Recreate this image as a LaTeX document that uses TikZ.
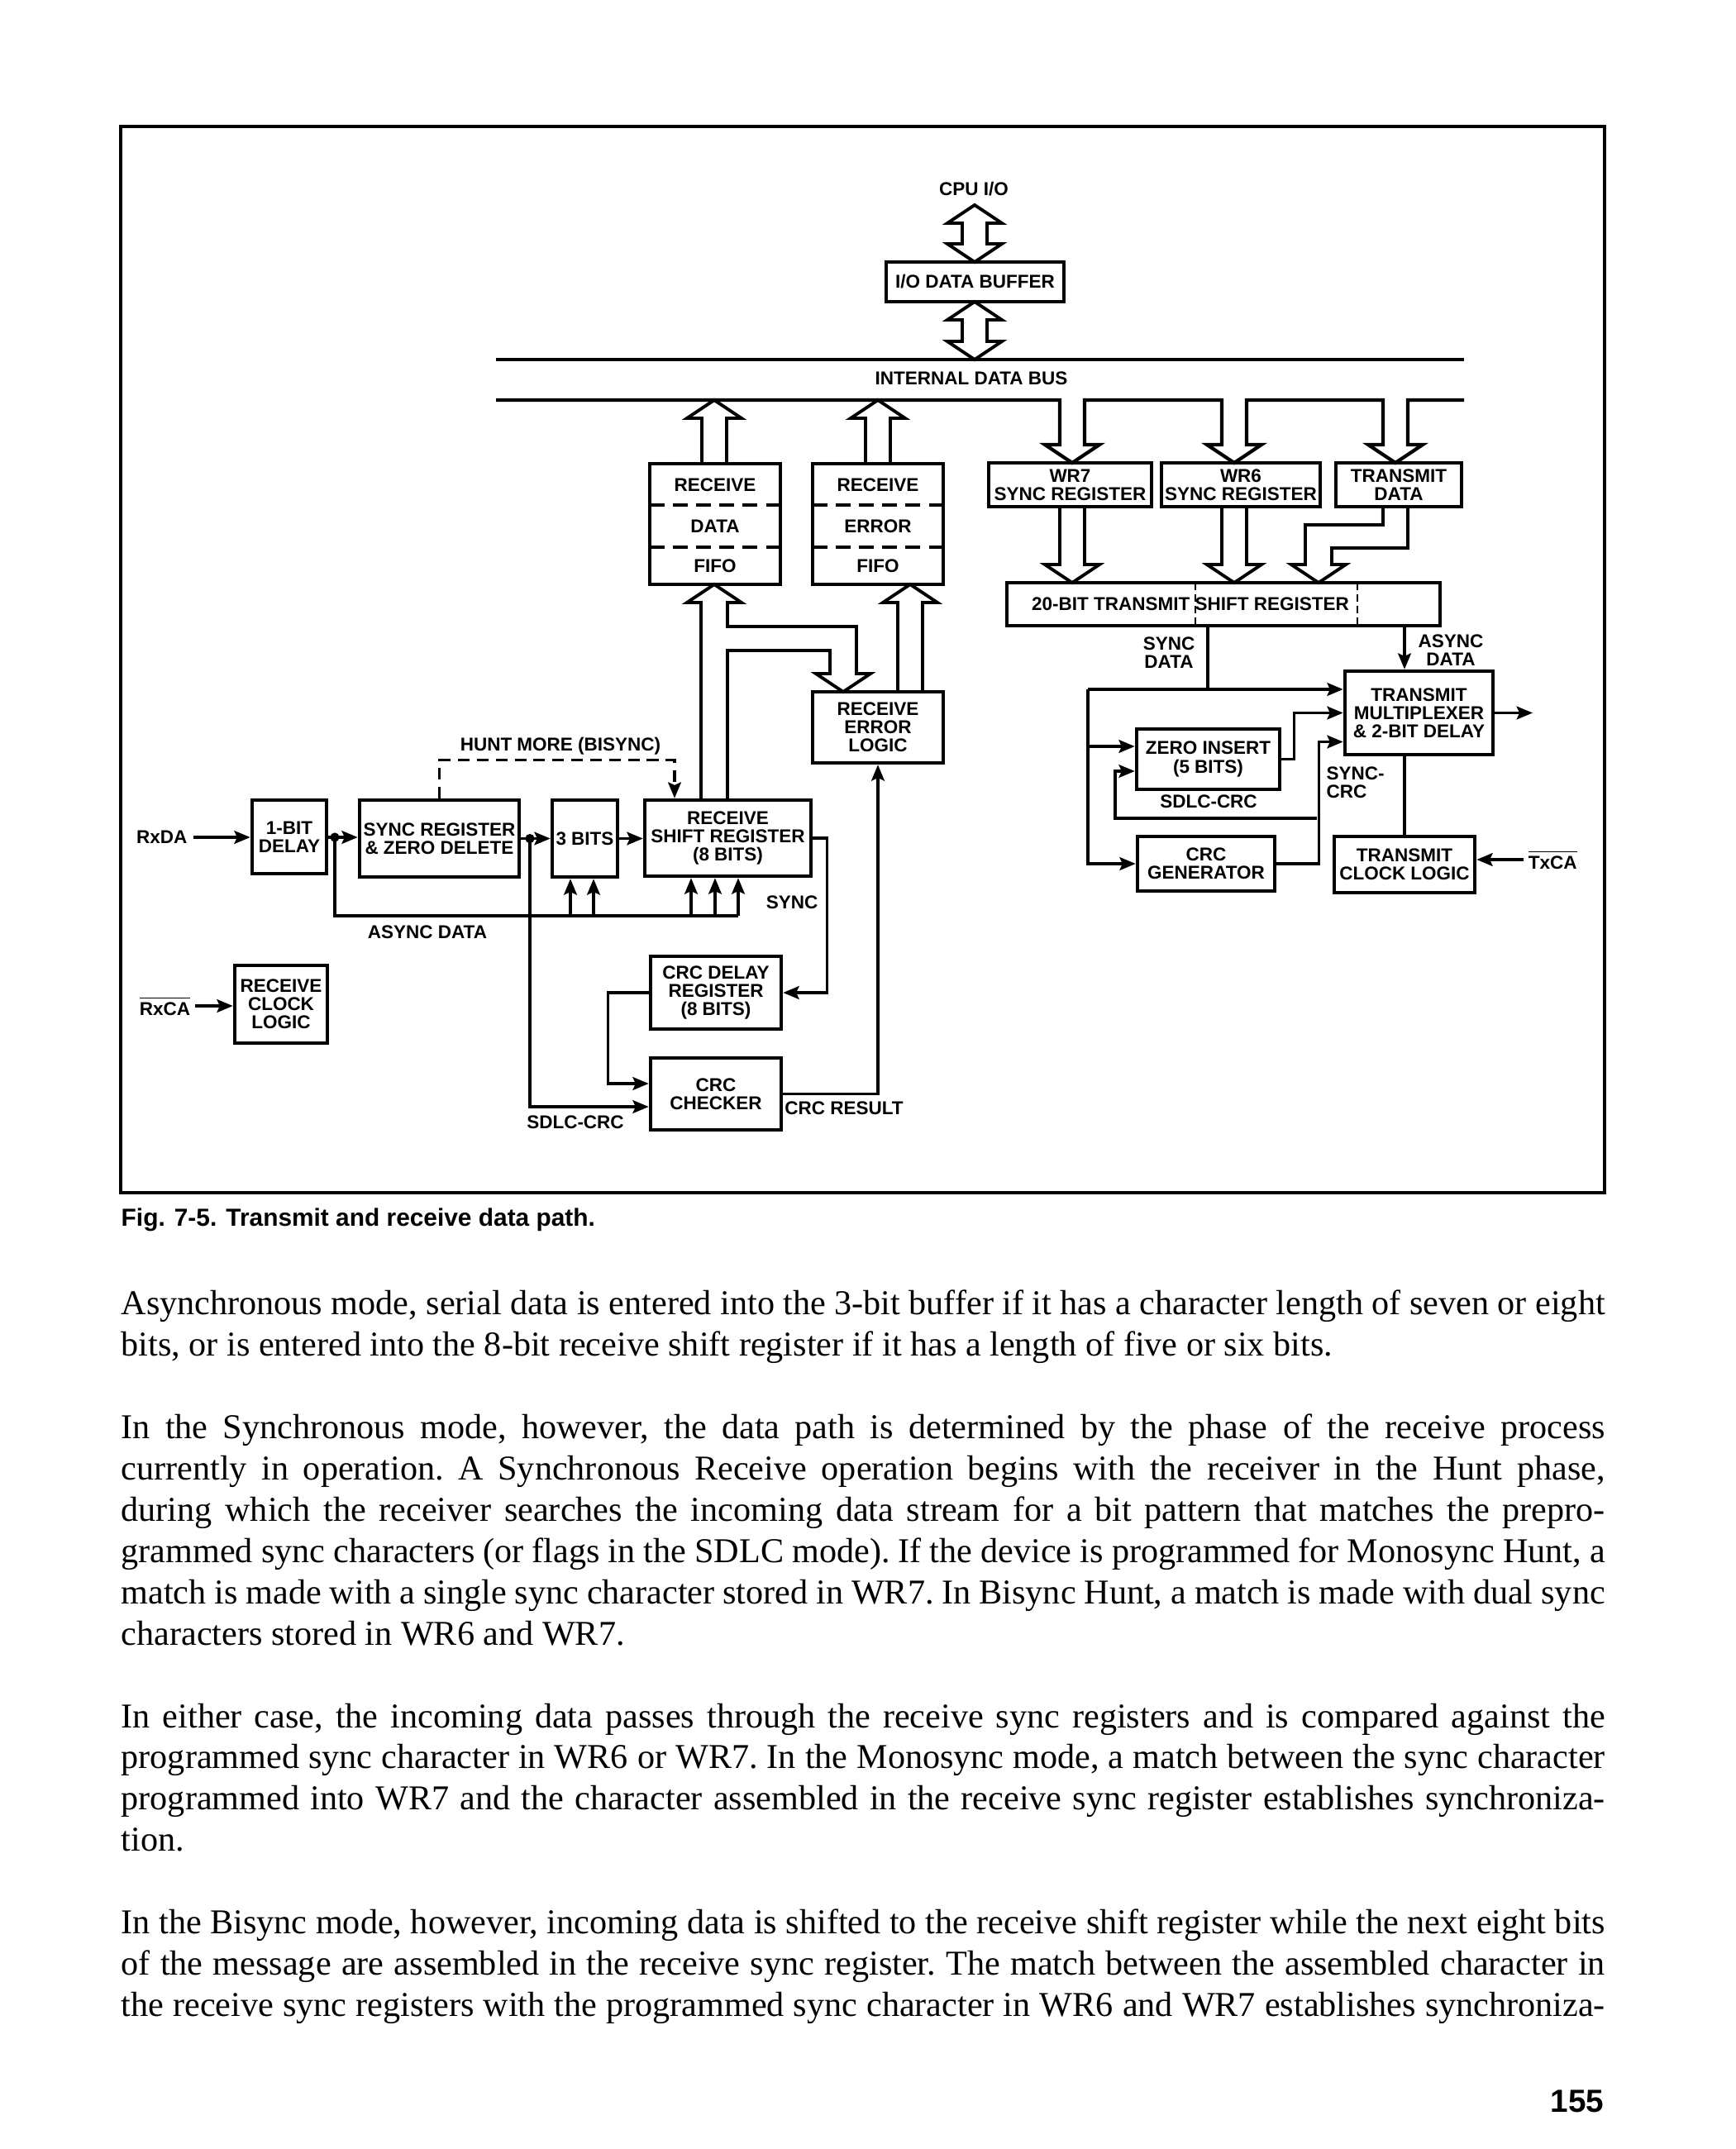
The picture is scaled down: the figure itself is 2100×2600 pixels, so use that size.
\documentclass[tikz,border=0pt]{standalone}
\usepackage{fontspec}
\setmainfont{Liberation Serif}
\newfontfamily\sansfam{Liberation Sans}
\usepackage{tikz}
\usetikzlibrary{arrows.meta, calc}

\newcommand{\diatext}{\sansfam\bfseries\fontsize{6.4}{6.3}\selectfont}
\newcommand{\captext}{\sansfam\bfseries\fontsize{8.5}{10}\selectfont}
\newcommand{\pagetext}{\sansfam\bfseries\fontsize{11}{13}\selectfont}
\newcommand{\ovl}[1]{$\overline{\hbox{#1}}$}
% hollow bus arrows: x, open end, tip
\newcommand{\fatup}[3]{\draw[fat] ({#1-15},#2) -- ({#1-15},{#3+22}) -- ({#1-33},{#3+22}) -- (#1,#3) -- ({#1+33},{#3+22}) -- ({#1+15},{#3+22}) -- ({#1+15},#2);}
\newcommand{\fatdown}[3]{\draw[fat] ({#1-15},#2) -- ({#1-15},{#3-22}) -- ({#1-33},{#3-22}) -- (#1,#3) -- ({#1+33},{#3-22}) -- ({#1+15},{#3-22}) -- ({#1+15},#2);}
\newcommand{\fatboth}[3]{\draw[fat] (#1,#2) -- ({#1+33},{#2+22}) -- ({#1+15},{#2+22}) -- ({#1+15},{#3-22}) -- ({#1+33},{#3-22}) -- (#1,#3) -- ({#1-33},{#3-22}) -- ({#1-15},{#3-22}) -- ({#1-15},{#2+22}) -- ({#1-33},{#2+22}) -- cycle;}

\begin{document}
\begin{tikzpicture}[x=0.1mm, y=-0.1mm,
    blk/.style={draw, line width=1.3pt, inner sep=0pt, align=center, font=\diatext},
    lbl/.style={inner sep=0pt, align=center, font=\diatext},
    wire/.style={line width=0.9pt},
    sig/.style={wire, -{Stealth[length=5.5pt, width=4.5pt, inset=1pt]}},
    fat/.style={line width=1.1pt, line join=miter},
    bus/.style={line width=1.2pt, line join=miter},
    divider/.style={line width=1.3pt, dash pattern=on 5pt off 3pt},
    hunt/.style={sig, dash pattern=on 4pt off 2.5pt}]
  \fill[white] (0,0) rectangle (2100,2600);
  \useasboundingbox (0,0) rectangle (2100,2600);
  \draw[line width=1.2pt] (146,153) rectangle (1941,1443);

  % cpu side and bus
  \node[lbl] (cpu) at (1178,229) {CPU I/O};
  \node[blk, minimum width=21.5mm, minimum height=4.8mm] (iobuf) at (1179.5,341) {I/O DATA BUFFER};
  \fatboth{1179}{248}{317}
  \fatboth{1179}{365}{435}
  \draw[bus] (600,435) -- (1771,435);
  \node[lbl] (ibus) at (1175,458) {INTERNAL DATA BUS};
  \draw[bus] (600,484) -- (1282,484) -- (1282,538) -- (1264,538) -- (1297,560) -- (1330,538) -- (1312,538) -- (1312,484)
    -- (1478,484) -- (1478,538) -- (1460,538) -- (1493,560) -- (1526,538) -- (1508,538) -- (1508,484)
    -- (1673,484) -- (1673,538) -- (1655,538) -- (1688,560) -- (1721,538) -- (1703,538) -- (1703,484) -- (1771,484);

  % receive fifos
  \node[blk, minimum width=15.8mm, minimum height=14.6mm] (rdf) at (865,634) {};
  \node[lbl] (rdf1) at (865,587) {RECEIVE};
  \node[lbl] (rdf2) at (865,637) {DATA};
  \node[lbl] (rdf3) at (865,685) {FIFO};
  \draw[divider] (786,611) -- (944,611) (786,662) -- (944,662);
  \node[blk, minimum width=15.8mm, minimum height=14.6mm] (ref) at (1062,634) {};
  \node[lbl] (ref1) at (1062,587) {RECEIVE};
  \node[lbl] (ref2) at (1062,637) {ERROR};
  \node[lbl] (ref3) at (1062,685) {FIFO};
  \draw[divider] (983,611) -- (1141,611) (983,662) -- (1141,662);
  \fatup{864}{561}{484}
  \fatup{1062}{561}{484}

  % transmit registers
  \node[blk, minimum width=19.7mm, minimum height=5.3mm] (wr7) at (1294.5,586.5) {WR7\\SYNC REGISTER};
  \node[blk, minimum width=19.2mm, minimum height=5.3mm] (wr6) at (1501,586.5) {WR6\\SYNC REGISTER};
  \node[blk, minimum width=15.2mm, minimum height=5.3mm] (txd) at (1692,586.5) {TRANSMIT\\DATA};
  \node[blk, minimum width=52.4mm, minimum height=5.2mm] (tsr) at (1480,731) {};
  \node[lbl] (tsrl) at (1440,731) {20-BIT TRANSMIT SHIFT REGISTER};
  \draw[line width=0.8pt, dash pattern=on 2.5pt off 1.5pt] (1446,705) -- (1446,757) (1642,705) -- (1642,757);
  \fatdown{1297}{613}{705}
  \fatdown{1493}{613}{705}
  \draw[fat] (1673,613) -- (1673,635) -- (1579,635) -- (1579,683) -- (1562,683) -- (1595,705) -- (1628,683)
    -- (1611,683) -- (1611,663) -- (1703,663) -- (1703,613);

  \node[blk, minimum width=17.9mm, minimum height=10.1mm] (mux) at (1716.5,862.5) {TRANSMIT\\MULTIPLEXER\\\& 2-BIT DELAY};
  \node[blk, minimum width=17.3mm, minimum height=7.3mm] (zins) at (1461.5,918.5) {ZERO INSERT\\(5 BITS)};
  \node[blk, minimum width=16.6mm, minimum height=6.6mm] (crcg) at (1459,1045) {CRC\\GENERATOR};
  \node[blk, minimum width=17.0mm, minimum height=6.8mm] (tcl) at (1699,1046) {TRANSMIT\\CLOCK LOGIC};
  \node[lbl] (sdata) at (1414,790) {SYNC\\DATA};
  \node[lbl] (adata) at (1755,787) {ASYNC\\DATA};
  \node[lbl] (sdlct) at (1462,970) {SDLC-CRC};
  \node[lbl, anchor=west, align=left] (synccrc) at (1604,947) {SYNC-\\CRC};
  \node[lbl, anchor=west, inner sep=1.5pt] (txca) at (1843,1040) {\ovl{TxCA}};

  \coordinate (sd) at (1461,834);
  \coordinate (sdl) at (1316,834);
  \coordinate (cb) at (1593,990);
  \coordinate (zin1) at ($(zins.west)+(0,-15.5)$);
  \coordinate (txout) at (1854,862.5);
  \draw[wire] (tsr.south -| sd) -- (sd);
  \draw[sig] (sdl) -- (sdl -| mux.west);
  \draw[sig] (sdl) |- (crcg.west);
  \draw[sig] (sdl |- zin1) -- (zin1);
  \draw[sig] (crcg.east) -- ++(51,0) |- ($(mux.west)+(0,35)$);
  \draw[sig] (cb) -- ++(-244,0) |- ($(zins.west)+(0,14.5)$);
  \draw[sig] (zins.east) -- ++(15,0) |- (mux.west);
  \draw[sig] (tsr.south -| tcl.north) -- (mux.north -| tcl.north);
  \draw[wire] (mux.south -| tcl.north) -- (tcl.north);
  \draw[sig] (mux.east) -- (txout);
  \draw[sig] (txca) -- (txca -| tcl.east);

  % receive path
  \node[lbl, anchor=east, inner sep=2pt] (rxda) at (234,1013) {RxDA};
  \node[blk, minimum width=9.0mm, minimum height=8.9mm] (dly1) at (350,1012.5) {1-BIT\\DELAY};
  \node[blk, minimum width=19.3mm, minimum height=9.3mm] (syncreg) at (531.5,1014.5) {SYNC REGISTER\\\& ZERO DELETE};
  \node[blk, minimum width=7.9mm, minimum height=9.3mm] (bits3) at (707.5,1014.5) {3 BITS};
  \node[blk, minimum width=20.1mm, minimum height=9.2mm] (rsr) at (880.5,1014) {RECEIVE\\SHIFT REGISTER\\(8 BITS)};
  \node[blk, minimum width=15.8mm, minimum height=8.6mm] (rel) at (1062,880) {RECEIVE\\ERROR\\LOGIC};
  \node[blk, minimum width=15.8mm, minimum height=8.8mm] (crcd) at (866,1201) {CRC DELAY\\REGISTER\\(8 BITS)};
  \node[blk, minimum width=15.8mm, minimum height=8.7mm] (crcc) at (866,1323.5) {CRC\\CHECKER};
  \node[blk, minimum width=11.2mm, minimum height=9.4mm] (rcl) at (340,1215) {RECEIVE\\CLOCK\\LOGIC};
  \node[lbl, anchor=east, inner sep=1.5pt] (rxca) at (236,1217) {\ovl{RxCA}};
  \node[lbl] (hunt) at (678,903) {HUNT MORE (BISYNC)};
  \node[lbl] (adata2) at (517,1128) {ASYNC DATA};
  \node[lbl] (synct) at (958,1092) {SYNC};
  \node[lbl] (sdlcr) at (696,1358) {SDLC-CRC};
  \node[lbl] (crcres) at (1021,1341) {CRC RESULT};

  \fatup{1101}{837}{707}
  \draw[fat] (848,968) -- (848,729) -- (831,729) -- (864,707) -- (897,729) -- (880,729) -- (880,758) -- (1036,758)
    -- (1036,815) -- (1053,815) -- (1020,837) -- (987,815) -- (1004,815) -- (1004,787) -- (880,787) -- (880,968);

  \coordinate (j1) at (405,1013);
  \coordinate (j2) at (641,1014.5);
  \coordinate (ab) at (893,1108);
  \draw[sig] (rxda) -- (rxda -| dly1.west);
  \draw[sig] (dly1.east |- j1) -- (j1 -| syncreg.west);
  \draw[sig] (syncreg.east |- j2) -- (j2 -| bits3.west);
  \draw[sig] (bits3.east) -- (bits3.east -| rsr.west);
  \fill (j1) circle[radius=1.6pt] (j2) circle[radius=1.6pt];
  \draw[wire] (j1) |- (ab);
  \foreach \x in {690,718}
    \draw[sig] (\x,1108) -- (bits3.south -| \x,1108);
  \foreach \x in {836,865,893}
    \draw[sig] (\x,1108) -- (rsr.south -| \x,1108);
  \draw[hunt] (syncreg.north) -- ++(0,-46) -| ($(rsr.north)+(-64.5,0)$);
  \draw[sig] (j2) |- ($(crcc.west)+(0,15.5)$);
  \draw[sig] (rsr.east) -- ++(17,0) |- (crcd.east);
  \draw[sig] (crcd.west) -- ++(-49,0) |- ($(crcc.west)+(0,-12.5)$);
  \draw[sig] (crcc.east) -| (rel.south);
  \draw[sig] (rxca) -- (rxca -| rcl.west);

  % caption, text, folio
  \node[anchor=west, inner sep=0pt, font=\captext] (cap) at (146,1476) {Fig. 7-5. Transmit and receive data path.};
  \node[anchor=base west, inner sep=0pt] (body) at (146,1590) {\parbox[t]{179.5mm}{%
    \fontsize{12}{14.226}\selectfont\frenchspacing\parindent=0pt\parskip=14.226pt
    \hyphenpenalty=10000\exhyphenpenalty=10000
    Asynchronous mode, serial data is entered into the 3-bit buffer if it has a character length of seven or eight\linebreak
    bits, or is entered into the 8-bit receive shift register if it has a length of five or six bits.\par
    In the Synchronous mode, however, the data path is determined by the phase of the receive process\linebreak
    currently in operation. A Synchronous Receive operation begins with the receiver in the Hunt phase,\linebreak
    during which the receiver searches the incoming data stream for a bit pattern that matches the prepro-\linebreak
    grammed sync characters (or flags in the SDLC mode). If the device is programmed for Monosync Hunt, a\linebreak
    match is made with a single sync character stored in WR7. In Bisync Hunt, a match is made with dual sync\linebreak
    characters stored in WR6 and WR7.\par
    In either case, the incoming data passes through the receive sync registers and is compared against the\linebreak
    programmed sync character in WR6 or WR7. In the Monosync mode, a match between the sync character\linebreak
    programmed into WR7 and the character assembled in the receive sync register establishes synchroniza-\linebreak
    tion.\par
    \parfillskip=0pt
    In the Bisync mode, however, incoming data is shifted to the receive shift register while the next eight bits\linebreak
    of the message are assembled in the receive sync register. The match between the assembled character in\linebreak
    the receive sync registers with the programmed sync character in WR6 and WR7 establishes synchroniza-\par}};
  \node[anchor=east, inner sep=0pt, font=\pagetext] (folio) at (1941,2542) {155};
\end{tikzpicture}
\end{document}
